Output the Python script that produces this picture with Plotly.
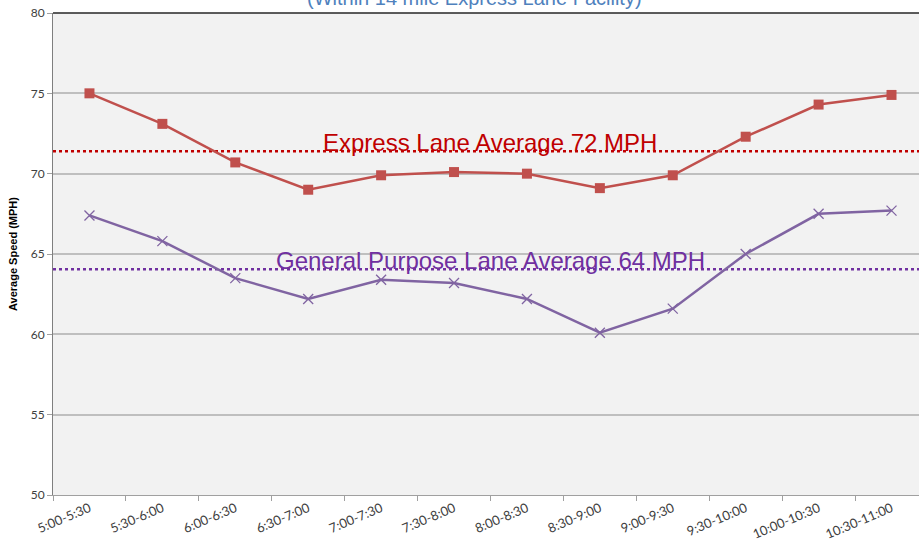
import plotly.graph_objects as go

categories = ["5:00-5:30", "5:30-6:00", "6:00-6:30", "6:30-7:00", "7:00-7:30", "7:30-8:00",
              "8:00-8:30", "8:30-9:00", "9:00-9:30", "9:30-10:00", "10:00-10:30", "10:30-11:00"]
express = [75.0, 73.1, 70.7, 69.0, 69.9, 70.1, 70.0, 69.1, 69.9, 72.3, 74.3, 74.9]
general = [67.4, 65.8, 63.5, 62.2, 63.4, 63.2, 62.2, 60.1, 61.6, 65.0, 67.5, 67.7]
express_avg = 71.4
general_avg = 64.05
express_label = "Express Lane Average 72 MPH"
general_label = "General Purpose Lane Average 64 MPH"
title_text = "(Within 14 mile Express Lane Facility)"
y_ticks = [50, 55, 60, 65, 70, 75, 80]

fig = go.Figure()
fig.add_trace(go.Scatter(x=categories, y=express, mode="lines+markers",
                         line=dict(color="#c0504d", width=2.5),
                         marker=dict(symbol="square", size=10, color="#c0504d")))
fig.add_trace(go.Scatter(x=categories, y=general, mode="lines+markers",
                         line=dict(color="#8064a2", width=2.5),
                         marker=dict(symbol="x-thin", size=10, color="#8064a2",
                                     line=dict(color="#8064a2", width=1.3))))

fig.add_shape(type="line", xref="paper", x0=0, x1=1, yref="y", y0=express_avg, y1=express_avg,
              line=dict(color="#c00000", width=2.5, dash="dot"), layer="below")
fig.add_shape(type="line", xref="paper", x0=0, x1=1, yref="y", y0=general_avg, y1=general_avg,
              line=dict(color="#7030a0", width=2.5, dash="dot"), layer="below")
fig.add_shape(type="line", xref="paper", x0=0, x1=1, yref="paper", y0=1, y1=1,
              line=dict(color="#262626", width=1.5))

fig.add_annotation(x=5.5, y=express_avg, xref="x", yref="y", text=express_label, showarrow=False,
                   yanchor="bottom", yshift=-7, font=dict(family="Liberation Sans, Arial", size=24, color="#c00000"))
fig.add_annotation(x=5.5, y=general_avg, xref="x", yref="y", text=general_label, showarrow=False,
                   yanchor="bottom", yshift=-7, font=dict(family="Liberation Sans, Arial", size=24, color="#7030a0"))
fig.add_annotation(x=0.487, y=1 + 1.5 / 482, xref="paper", yref="paper", text=title_text, showarrow=False,
                   yanchor="bottom", font=dict(family="Liberation Sans, Arial", size=20, color="#4f81bd"))

fig.update_layout(
    width=919, height=549,
    margin=dict(l=53, r=0, t=13, b=54, autoexpand=False),
    paper_bgcolor="white", plot_bgcolor="#f2f2f2",
    showlegend=False,
    font=dict(family="Lato, sans-serif", color="#404040"),
)
fig.update_xaxes(type="category", range=[-0.5, 11.377], tickson="boundaries", ticks="outside",
                 ticklen=5, tickcolor="#a0a0a0", showline=True, linecolor="#a0a0a0", linewidth=1,
                 showgrid=False, tickangle=-23, tickfont=dict(size=13, color="#404040"))
fig.update_yaxes(range=[50, 80], tickvals=y_ticks, ticks="outside", ticklen=5, tickcolor="#a0a0a0",
                 showline=True, linecolor="#7f7f7f", linewidth=1, showgrid=True, gridcolor="#bfbfbf",
                 gridwidth=1.5, zeroline=False, tickfont=dict(size=12, color="#404040"),
                 title=dict(text="<b>Average Speed (MPH)</b>", font=dict(size=11, color="#000000",
                            family="Liberation Sans, Arial"), standoff=10))

fig.write_html("out.html", config={"displayModeBar": False},
               post_script="document.body.style.margin='0';document.body.style.overflow='hidden';")
